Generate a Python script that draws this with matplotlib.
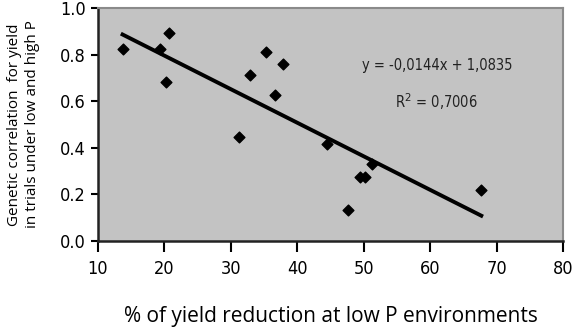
import matplotlib
matplotlib.use("Agg")
import matplotlib.pyplot as plt
import numpy as np

x_vals = [13.7, 19.3, 20.7, 20.3, 31.3, 32.9, 35.3, 36.7, 37.9, 44.5, 47.7, 49.4, 50.2, 51.2, 67.7]
y_vals = [0.822, 0.826, 0.891, 0.682, 0.445, 0.711, 0.812, 0.625, 0.759, 0.417, 0.132, 0.273, 0.273, 0.33, 0.22]
slope = -0.0144
intercept = 1.0835
x_ticks = [10, 20, 30, 40, 50, 60, 70, 80]
y_ticks = [0.0, 0.2, 0.4, 0.6, 0.8, 1.0]

fig = plt.figure(figsize=(5.72, 3.29), dpi=100)
ax = fig.add_axes([98/572, 1-241/329, (563-98)/572, (241-8)/329])
ax.set_facecolor("#c3c3c3")

ax.scatter(x_vals, y_vals, marker="D", s=30, color="black", zorder=3)
xl = np.array([min(x_vals), max(x_vals)])
ax.plot(xl, slope*xl + intercept, color="black", lw=2.8, zorder=2)

ax.set_xlim(10, 80)
ax.set_ylim(0, 1.0)
ax.set_xticks(x_ticks)
ax.set_yticks(y_ticks)
ax.set_xticklabels([str(t) for t in x_ticks], fontsize=13, fontstretch="condensed", family="DejaVu Sans")
ax.set_yticklabels([f"{t:.1f}" for t in y_ticks], fontsize=13, fontstretch="condensed", family="DejaVu Sans")
ax.tick_params(axis="x", direction="out", length=8, width=1.5, pad=6)
ax.tick_params(axis="y", direction="out", length=5, width=1.5, pad=4)
for s in ["left", "bottom"]:
    ax.spines[s].set_linewidth(1.8)
    ax.spines[s].set_color("#222222")
for s in ["top", "right"]:
    ax.spines[s].set_linewidth(1.5)
    ax.spines[s].set_color("#8a8a8a")

ax.text(61, 0.755, "y = -0,0144x + 1,0835", ha="center", va="center", fontsize=10.5,
        fontstretch="condensed", family="DejaVu Sans", color="#222222")
ax.text(61, 0.60, "R$^2$ = 0,7006", ha="center", va="center", fontsize=10.5,
        fontstretch="condensed", family="DejaVu Sans", color="#222222")

ax.set_xlabel("% of yield reduction at low P environments", fontsize=15, family="Open Sans", labelpad=20)
ax.set_ylabel("Genetic correlation  for yield\nin trials under low and high P", fontsize=11, family="Open Sans",
              labelpad=14, linespacing=1.25)

fig.savefig("out.png", dpi=100)
